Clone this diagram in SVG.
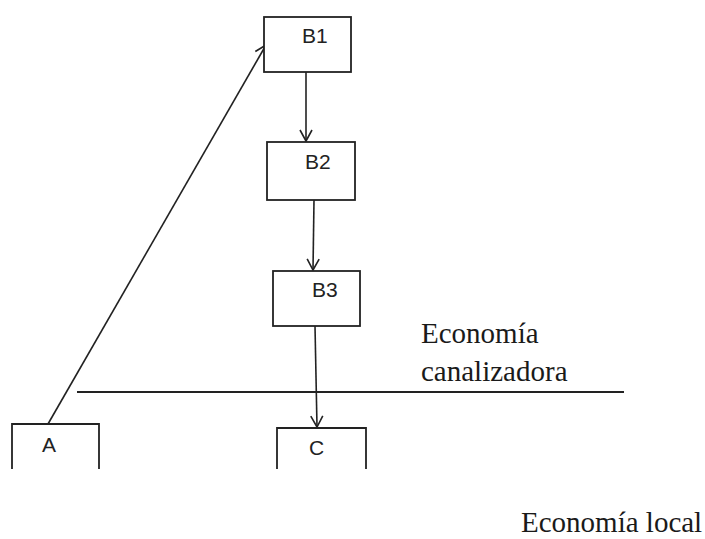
<svg xmlns="http://www.w3.org/2000/svg" width="705" height="539" viewBox="0 0 705 539">
<defs>
<marker id="arr" markerWidth="14" markerHeight="14" refX="12" refY="7" orient="auto" markerUnits="userSpaceOnUse">
<path d="M1,1 L12,7 L1,13" fill="none" stroke="#222" stroke-width="1.6"/>
</marker>
<style>
.box{fill:#fff;stroke:#222;stroke-width:1.8}
.open{fill:none;stroke:#222;stroke-width:1.8}
.lbl{font-family:"Liberation Sans",Arial,sans-serif;font-size:21px;fill:#222}
.ser{font-family:"Liberation Serif","Times New Roman",serif;font-size:29px;fill:#1a1a1a}
.edge{fill:none;stroke:#222;stroke-width:1.6;marker-end:url(#arr)}
</style>
</defs>
<rect width="705" height="539" fill="#fff"/>
<g id="connectors">
<line class="edge" x1="48" y1="424" x2="266" y2="45"/>
<line class="edge" x1="306" y1="72" x2="306" y2="141"/>
<line class="edge" x1="314" y1="200" x2="313" y2="270"/>
<line class="edge" x1="315" y1="326" x2="317" y2="427"/>
</g>
<line x1="77" y1="392" x2="624" y2="392" stroke="#222" stroke-width="2"/>
<g id="B1"><rect class="box" x="264" y="17" width="87" height="55"/><text class="lbl" x="302" y="43">B1</text></g>
<g id="B2"><rect class="box" x="267" y="142" width="88" height="58"/><text class="lbl" x="305" y="169">B2</text></g>
<g id="B3"><rect class="box" x="273" y="271" width="87" height="55"/><text class="lbl" x="312" y="297">B3</text></g>
<g id="A"><path class="open" d="M12,469 L12,424 L99,424 L99,469"/><text class="lbl" x="42" y="452">A</text></g>
<g id="C"><path class="open" d="M277,469 L277,428 L366,428 L366,469"/><text class="lbl" x="309" y="455">C</text></g>
<text class="ser" x="421" y="343">Economía</text>
<text class="ser" x="421" y="381">canalizadora</text>
<text class="ser" x="521" y="532">Economía local</text>
</svg>
